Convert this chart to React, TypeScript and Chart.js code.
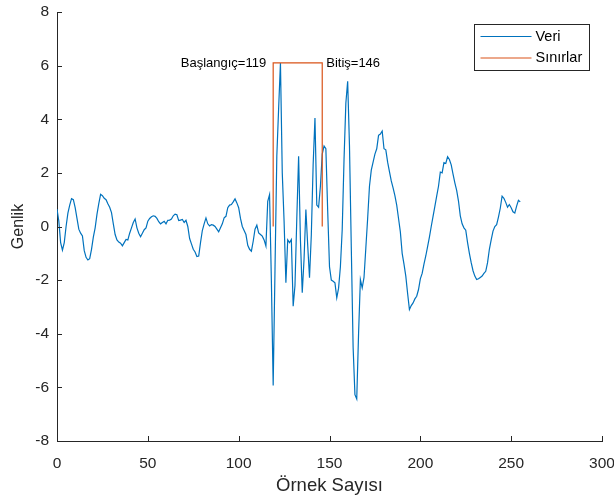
import { useEffect, useRef } from "react";
import { Chart, registerables } from "chart.js";

Chart.register(...registerables);

// Signal amplitude per sample (Genlik), sample index 0..255
const genlik: number[] = [
  0.65, 0.2, -0.6, -0.88, -0.6, 0.0, 0.5, 0.8, 1.04, 1.0,
  0.7, 0.3, -0.1, -0.25, -0.35, -0.9, -1.15, -1.25, -1.2, -0.85,
  -0.4, -0.05, 0.45, 0.85, 1.2, 1.15, 1.05, 1.0, 0.85, 0.72,
  0.52, 0.1, -0.3, -0.5, -0.58, -0.62, -0.72, -0.6, -0.48, -0.5,
  -0.25, -0.05, 0.15, 0.28, -0.05, -0.25, -0.38, -0.25, -0.12, -0.05,
  0.2, 0.3, 0.36, 0.4, 0.38, 0.3, 0.18, 0.1, 0.15, 0.19,
  0.1, 0.23, 0.24, 0.28, 0.4, 0.46, 0.44, 0.22, 0.24, 0.26,
  0.15, 0.23, 0.0, -0.45, -0.65, -0.85, -0.95, -1.12, -1.1, -0.6,
  -0.15, 0.1, 0.32, 0.1, 0.02, 0.07, 0.05, 0.0, -0.1, -0.2,
  -0.05, 0.1, 0.32, 0.38, 0.7, 0.8, 0.82, 0.92, 1.03, 0.88,
  0.7, 0.3, 0.0, -0.15, -0.3, -0.7, -0.85, -0.92, -0.55, -0.1,
  0.05, -0.24, -0.3, -0.36, -0.5, -0.73, 0.94, 1.19, -2.0, -5.93,
  -1.6, 2.62, 4.4, 6.1, 2.0, 0.2, -2.1, -0.5, -0.6, -0.49,
  -2.97, -2.2, 0.3, 2.62, -0.5, -2.47, -1.2, 0.63, -0.7, -1.91,
  -0.3, 2.3, 4.05, 0.8, 0.72, 1.5, 2.7, 3.0, 2.9, 0.6,
  -1.5, -2.0, -2.04, -2.1, -2.66, -2.3, -1.5, -0.11, 2.5, 4.6,
  5.42, 3.0, -0.8, -4.5, -6.27, -6.43, -4.0, -1.98, -2.29, -1.9,
  -0.8, 0.3, 1.5, 2.1, 2.4, 2.7, 2.9, 3.4, 3.45, 3.56,
  2.9, 2.86, 2.4, 2.05, 1.7, 1.44, 1.15, 0.8, 0.3, -0.2,
  -1.0, -1.4, -1.85, -2.5, -3.1, -2.95, -2.85, -2.7, -2.6, -2.35,
  -1.95, -1.75, -1.4, -1.1, -0.75, -0.4, 0.0, 0.38, 0.75, 1.13,
  1.5, 2.03, 2.0, 2.38, 2.35, 2.6, 2.5, 2.3, 1.95, 1.63,
  1.35, 0.95, 0.4, 0.1, -0.05, -0.14, -0.6, -1.0, -1.35, -1.65,
  -1.85, -1.98, -1.95, -1.9, -1.85, -1.75, -1.67, -1.35, -0.85, -0.5,
  -0.17, 0.0, 0.07, 0.35, 0.68, 1.13, 1.05, 0.9, 0.72, 0.82,
  0.7, 0.55, 0.5, 0.76, 0.98, 0.92,
];

// Detected segment boundaries
const baslangic = 119;
const bitis = 146;

const xTicks: number[] = [0, 50, 100, 150, 200, 250, 300];
const yTicks: number[] = [-8, -6, -4, -2, 0, 2, 4, 6, 8];

const seriesNames: string[] = ["Veri", "Sınırlar"];
const seriesColors: string[] = ["#0072BD", "#D95319"];

const FONT = "'Liberation Sans', Arial, Helvetica, sans-serif";
const AXIS_COLOR = "#262626";

// Inward tick marks on the left and bottom axes
const tickMarks = {
  id: "tickMarks",
  afterDraw(chart: any) {
    const { ctx, chartArea, scales } = chart;
    const len = 5;
    ctx.save();
    ctx.strokeStyle = AXIS_COLOR;
    ctx.lineWidth = 1;
    ctx.beginPath();
    for (const v of xTicks) {
      const px = Math.round(scales.x.getPixelForValue(v)) + 0.5;
      ctx.moveTo(px, chartArea.bottom);
      ctx.lineTo(px, chartArea.bottom - len);
    }
    for (const v of yTicks) {
      const py = Math.round(scales.y.getPixelForValue(v)) + 0.5;
      ctx.moveTo(chartArea.left, py);
      ctx.lineTo(chartArea.left + len, py);
    }
    ctx.stroke();
    ctx.restore();
  },
};

// Boundary labels beside the bracket top
const boundaryLabels = {
  id: "boundaryLabels",
  afterDatasetsDraw(chart: any) {
    const { ctx, scales } = chart;
    const peak = Math.max(...genlik);
    const y = scales.y.getPixelForValue(peak);
    ctx.save();
    ctx.font = `13px ${FONT}`;
    ctx.fillStyle = "#000000";
    ctx.textBaseline = "middle";
    ctx.textAlign = "right";
    ctx.fillText(`Başlangıç=${baslangic}`, scales.x.getPixelForValue(baslangic) - 7, y);
    ctx.textAlign = "left";
    ctx.fillText(`Bitiş=${bitis}`, scales.x.getPixelForValue(bitis) + 4, y);
    ctx.restore();
  },
};

// Boxed legend in the upper right corner
const boxLegend = {
  id: "boxLegend",
  afterDraw(chart: any) {
    const { ctx } = chart;
    const left = 474.5;
    const top = 24.5;
    const w = 115;
    const h = 46;
    ctx.save();
    ctx.fillStyle = "#ffffff";
    ctx.fillRect(left, top, w, h);
    ctx.strokeStyle = AXIS_COLOR;
    ctx.lineWidth = 1;
    ctx.strokeRect(left, top, w, h);
    ctx.font = `14.5px ${FONT}`;
    ctx.textBaseline = "middle";
    ctx.textAlign = "left";
    seriesNames.forEach((name, i) => {
      const cy = top + 12 + i * 21.5;
      ctx.strokeStyle = seriesColors[i];
      ctx.lineWidth = 1.2;
      ctx.beginPath();
      ctx.moveTo(left + 6, cy);
      ctx.lineTo(left + 57, cy);
      ctx.stroke();
      ctx.fillStyle = "#000000";
      ctx.fillText(name, left + 61, cy);
    });
    ctx.restore();
  },
};

export default function App() {
  const canvasRef = useRef<HTMLCanvasElement | null>(null);

  useEffect(() => {
    const canvas = canvasRef.current;
    if (!canvas) return;
    const peak = Math.max(...genlik);

    const chart = new Chart(canvas, {
      type: "line",
      data: {
        datasets: [
          {
            label: seriesNames[1],
            data: [
              { x: baslangic, y: 0 },
              { x: baslangic, y: peak },
              { x: bitis, y: peak },
              { x: bitis, y: 0 },
            ],
            borderColor: seriesColors[1],
            borderWidth: 1.2,
            pointRadius: 0,
            fill: false,
            tension: 0,
            order: 0,
          },
          {
            label: seriesNames[0],
            data: genlik.map((v, i) => ({ x: i, y: v })),
            borderColor: seriesColors[0],
            borderWidth: 1.2,
            pointRadius: 0,
            fill: false,
            tension: 0,
            order: 1,
          },
        ],
      },
      options: {
        responsive: false,
        animation: false,
        devicePixelRatio: 1,
        layout: { padding: { left: 0, top: 12, right: 12, bottom: 0 } },
        plugins: {
          legend: { display: false },
          tooltip: { enabled: false },
        },
        scales: {
          x: {
            type: "linear",
            min: 0,
            max: 300,
            afterBuildTicks: (s: any) => {
              s.ticks = xTicks.map((value) => ({ value }));
            },
            afterFit: (s: any) => {
              s.height = 59;
              s.paddingLeft = 0;
              s.paddingRight = 0;
            },
            grid: { display: false, drawTicks: false },
            border: { display: true, color: AXIS_COLOR, width: 1 },
            ticks: {
              color: AXIS_COLOR,
              font: { family: FONT, size: 15.5 },
              padding: 13,
              maxRotation: 0,
              autoSkip: false,
            },
            title: {
              display: true,
              text: "Örnek Sayısı",
              color: AXIS_COLOR,
              font: { family: FONT, size: 18.5 },
              padding: { top: 0, bottom: 3 },
            },
          },
          y: {
            type: "linear",
            min: -8,
            max: 8,
            afterBuildTicks: (s: any) => {
              s.ticks = yTicks.map((value) => ({ value }));
            },
            afterFit: (s: any) => {
              s.width = 57;
              s.paddingTop = 0;
              s.paddingBottom = 0;
            },
            grid: { display: false, drawTicks: false },
            border: { display: true, color: AXIS_COLOR, width: 1 },
            ticks: {
              color: AXIS_COLOR,
              font: { family: FONT, size: 15.5 },
              padding: 8,
            },
            title: {
              display: true,
              text: "Genlik",
              color: AXIS_COLOR,
              font: { family: FONT, size: 16 },
              padding: { top: 9, bottom: 0 },
            },
          },
        },
      },
      plugins: [tickMarks, boundaryLabels, boxLegend],
    });

    return () => chart.destroy();
  }, []);

  return (
    <div
      style={{
        position: "fixed",
        left: 0,
        top: 0,
        width: 614,
        height: 500,
        background: "#ffffff",
      }}
    >
      <canvas ref={canvasRef} width={614} height={500} />
    </div>
  );
}
